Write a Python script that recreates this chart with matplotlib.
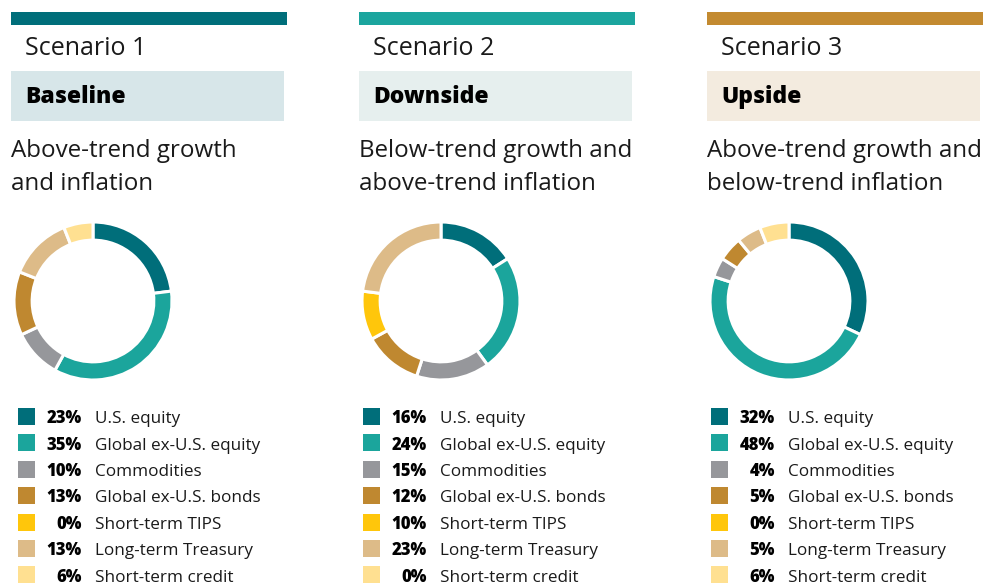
import matplotlib
matplotlib.use("Agg")
import matplotlib.pyplot as plt
from matplotlib.patches import Rectangle

plt.rcParams['font.family'] = ['Open Sans', 'DejaVu Sans']

W, H = 994, 585

# ---- data ----
asset_classes = ["U.S. equity", "Global ex-U.S. equity", "Commodities",
                 "Global ex-U.S. bonds", "Short-term TIPS",
                 "Long-term Treasury", "Short-term credit"]
asset_colors = ["#006E7A", "#1BA59C", "#96979B", "#BF8830",
                "#FFC60B", "#DDBB88", "#FFE091"]

scenario_numbers = ["Scenario 1", "Scenario 2", "Scenario 3"]
scenario_names = ["Baseline", "Downside", "Upside"]
scenario_descriptions = ["Above-trend growth\nand inflation",
                         "Below-trend growth and\nabove-trend inflation",
                         "Above-trend growth and\nbelow-trend inflation"]
baseline_weights = [23, 35, 10, 13, 0, 13, 6]
downside_weights = [16, 24, 15, 12, 10, 23, 0]
upside_weights = [32, 48, 4, 5, 0, 5, 6]
scenario_weights = [baseline_weights, downside_weights, upside_weights]

bar_colors = ["#006E7A", "#1BA59E", "#C38A30"]
box_colors = ["#D7E6E9", "#E6EFEE", "#F3EBDF"]

# ---- layout (pixels) ----
panel_x = [11, 359, 707]
legend_x = [18, 363, 711]
panel_w = 276
donut_cx_offset = 82
donut_cy = 301
donut_r = 79
text_color = "#1A1A1A"

fig = plt.figure(figsize=(W / 100, H / 100), dpi=100)
bg = fig.add_axes([0, 0, 1, 1])
bg.set_xlim(0, W)
bg.set_ylim(H, 0)
bg.axis("off")

row_base0 = 423.3
row_dy = 26.4

for i in range(3):
    x0 = panel_x[i]
    # top colour bar
    bg.add_patch(Rectangle((x0, 12), panel_w, 13, color=bar_colors[i], lw=0))
    bg.text(x0 + 14, 55, scenario_numbers[i], fontsize=18, color=text_color,
            va="baseline", ha="left")
    # name box
    bg.add_patch(Rectangle((x0, 71), panel_w - 3, 50, color=box_colors[i], lw=0))
    bg.text(x0 + 14, 103, scenario_names[i], fontsize=16.5, fontweight="heavy",
            color="#000000", va="baseline", ha="left")
    # description, one text per line
    for k, line in enumerate(scenario_descriptions[i].split("\n")):
        bg.text(x0, 157 + k * 32.5, line, fontsize=17.4, color=text_color,
                va="baseline", ha="left")

    # donut
    cx = x0 + donut_cx_offset
    ax = fig.add_axes([(cx - donut_r - 2) / W, 1 - (donut_cy + donut_r + 2) / H,
                       (2 * donut_r + 4) / W, (2 * donut_r + 4) / H])
    vals = [v for v in scenario_weights[i] if v > 0]
    cols = [c for v, c in zip(scenario_weights[i], asset_colors) if v > 0]
    ax.pie(vals, colors=cols, startangle=90, counterclock=False,
           radius=donut_r / (donut_r + 2),
           wedgeprops=dict(width=0.224, edgecolor="white", linewidth=2.2))
    ax.set_xlim(-1, 1)
    ax.set_ylim(-1, 1)
    ax.set_aspect("equal")
    ax.axis("off")

    # legend rows
    lx = legend_x[i]
    for j, (name, val, col) in enumerate(zip(asset_classes, scenario_weights[i], asset_colors)):
        yb = row_base0 + j * row_dy
        bg.add_patch(Rectangle((lx, yb - 15.3), 17, 17, color=col, lw=0))
        bg.text(lx + 64, yb, f"{val}%", fontsize=12, fontweight="heavy",
                color="#000000", va="baseline", ha="right")
        bg.text(lx + 77, yb, name, fontsize=12.3, color=text_color,
                va="baseline", ha="left")

fig.savefig("out.png", dpi=100)
